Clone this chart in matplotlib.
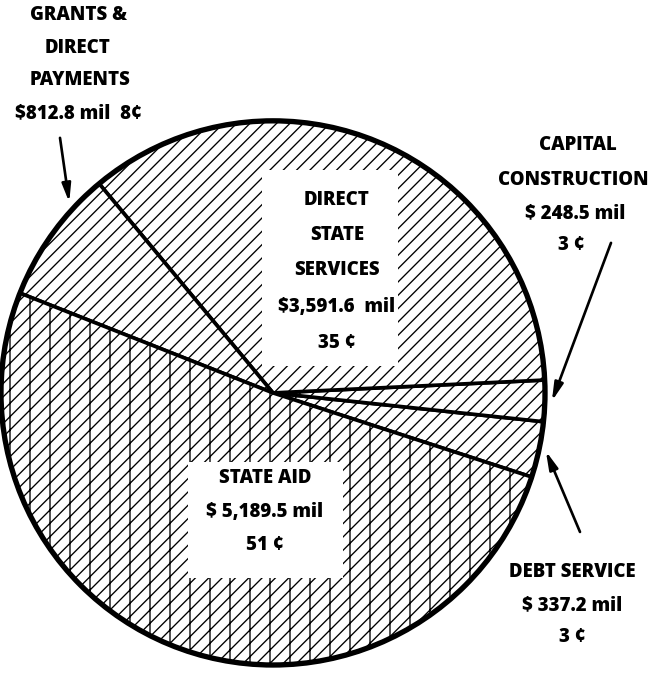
import numpy as np
import matplotlib
matplotlib.use('Agg')
import matplotlib.pyplot as plt
from matplotlib.patches import Circle, Rectangle

# budget split, in pie order (counter-clockwise from the right)
names = ['DEBT SERVICE', 'CAPITAL CONSTRUCTION', 'DIRECT STATE SERVICES',
         'GRANTS & DIRECT PAYMENTS', 'STATE AID']
amounts = [337.2, 248.5, 3591.6, 812.8, 5189.5]   # $ million
cents = [3, 3, 35, 8, 51]
hatches = ['///', '///', '///', '///', '|///']

W, H = 663, 683
DPI = 120
plt.rcParams['hatch.linewidth'] = 0.8

fig = plt.figure(figsize=(W / DPI, (H + 0.2) / DPI), dpi=DPI)
ax = fig.add_axes([0, 0, 1, 1])

cx, cy, r = 273, 393, 272   # pixel coords, y from top


def Y(y):
    return H - y


wedges, _ = ax.pie(amounts, startangle=-18, counterclock=True,
                   center=(cx, Y(cy)), radius=r, frame=True,
                   wedgeprops=dict(facecolor='white', edgecolor='black',
                                   linewidth=2.2))
for w, h in zip(wedges, hatches):
    w.set_hatch(h)

ax.add_patch(Circle((cx, Y(cy)), r, fill=False, lw=3.2, ec='black', zorder=4))

# white label boxes inside the pie
ax.add_patch(Rectangle((262, Y(366)), 136, 196, fc='white', ec='none', zorder=3))
ax.add_patch(Rectangle((188, Y(578)), 155, 116, fc='white', ec='none', zorder=3))


def put(x, y, s):
    ax.text(x, Y(y), s, ha='center', va='center', fontsize=11.2,
            fontweight=800, family=['Open Sans', 'DejaVu Sans'], zorder=5)


def money(a, space=True):
    s = '{:,.1f}'.format(a)
    return ('$ ' if space else '$') + s + ' mil'


# grants & direct payments
put(78, 15, 'GRANTS &')
put(78, 48, 'DIRECT')
put(80, 80, 'PAYMENTS')
put(78, 113, money(amounts[3], False) + '  %d¢' % cents[3])

# direct state services
put(337, 200, 'DIRECT')
put(337, 235, 'STATE')
put(337, 270, 'SERVICES')
put(337, 307, money(amounts[2], False).replace(' mil', '  mil'))
put(337, 343, '%d ¢' % cents[2])

# capital construction
put(578, 145, 'CAPITAL')
put(573, 180, 'CONSTRUCTION')
put(575, 213, money(amounts[1]))
put(571, 245, '%d ¢' % cents[1])

# debt service
put(572, 572, 'DEBT SERVICE')
put(572, 605, money(amounts[0]))
put(572, 637, '%d ¢' % cents[0])

# state aid
put(265, 478, 'STATE AID')
put(265, 512, money(amounts[4]))
put(265, 545, '%d ¢' % cents[4])


def edge_point(theta, extra=7):
    t = np.radians(theta)
    return (cx + (r + extra) * np.cos(t), Y(cy) + (r + extra) * np.sin(t))


arrow = dict(arrowstyle='-|>,head_length=0.9,head_width=0.22', lw=1.6,
             color='black', shrinkA=0, shrinkB=0)
debt, capital, dss, grants, aid = wedges
ax.annotate('', xy=edge_point((capital.theta1 + capital.theta2) / 2),
            xytext=(611, Y(243)), arrowprops=arrow, zorder=6)
ax.annotate('', xy=edge_point((debt.theta1 + debt.theta2) / 2),
            xytext=(580, Y(532)), arrowprops=arrow, zorder=6)
ax.annotate('', xy=edge_point(grants.theta1 + 0.25 * (grants.theta2 - grants.theta1)),
            xytext=(60, Y(138)), arrowprops=arrow, zorder=6)

ax.set_xlim(0, W)
ax.set_ylim(0, H)
ax.set_aspect('auto')
ax.axis('off')

fig.savefig('out.png', dpi=DPI, facecolor='white')
